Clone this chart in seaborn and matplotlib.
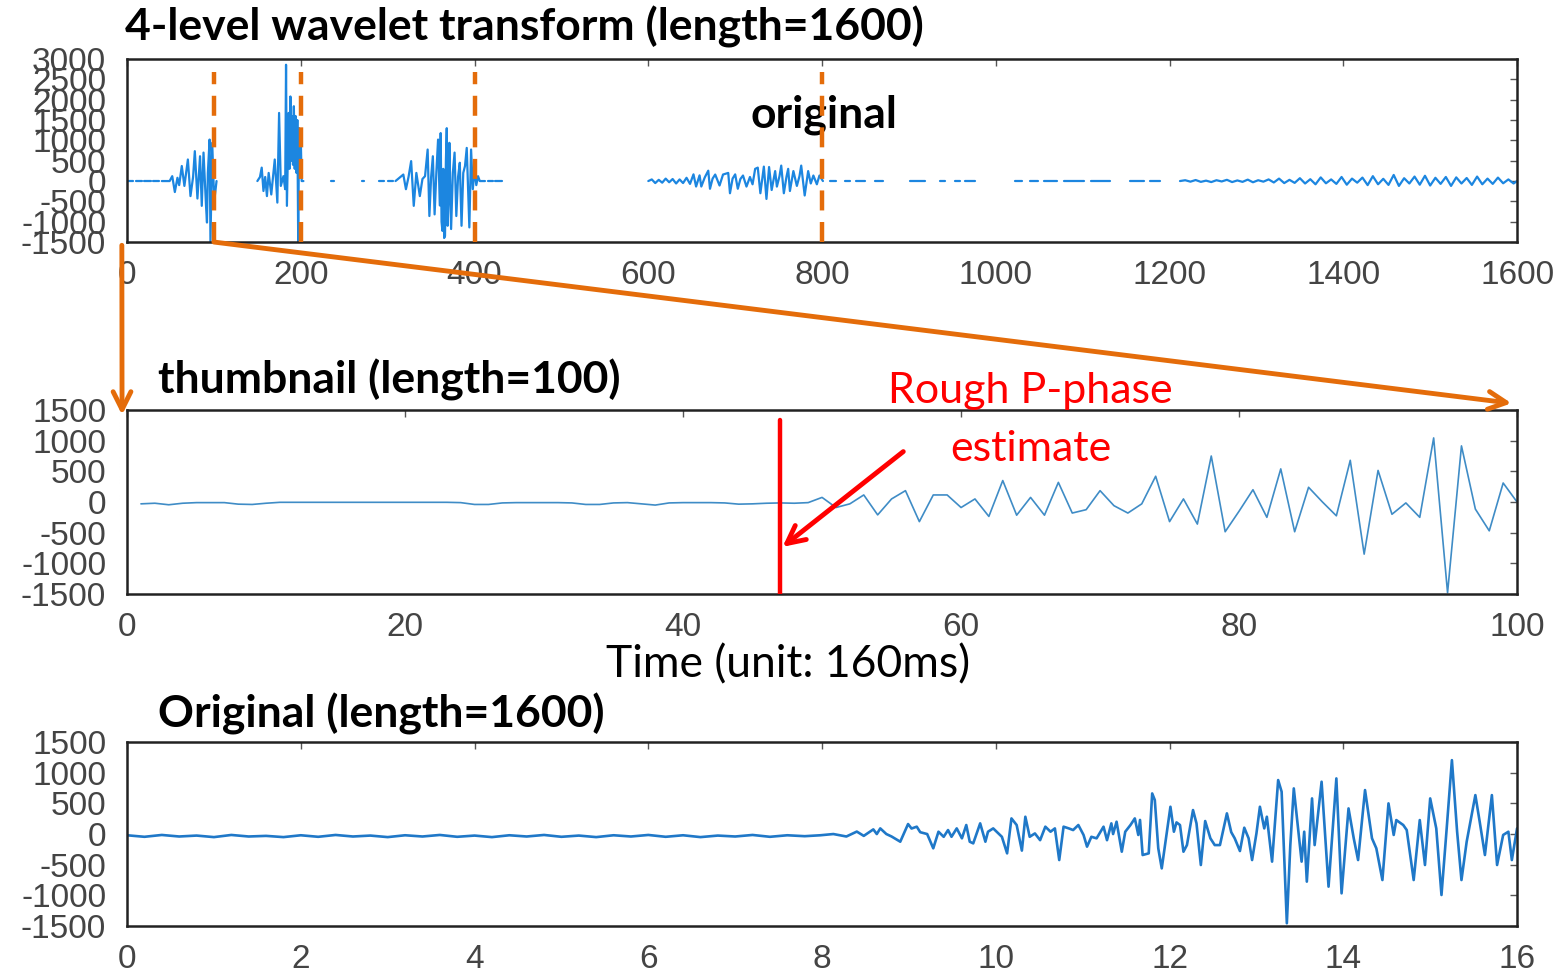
import numpy as np
import pandas as pd
import matplotlib
matplotlib.use('Agg')
import matplotlib.pyplot as plt
import seaborn as sns
from matplotlib.patches import ConnectionPatch

'''
values read off the picture
'''
# 4-level wavelet transform, (x, y) samples, nan = gap in the drawn line
wav_x = [0, 7, np.nan, 10, 17, np.nan, 20, 27, np.nan, 30, 37, np.nan, 40, 49,
         52, 55, 58, 60, 63, 66, 70, 73, 76, 78, 81, 84, 86, 88, 90, 91, 92, 93,
         95, 96, 98, 100, 101, 103, np.nan,
         150, 153, 155, 157, 159, 161, 163, 166, 168, 170, 173, 175, 177, 180,
         182, 183, 184, 186, 187, 188, 189, 190, 191, 192, 193, 194, 195, 196,
         197, 198, 199, 200, 201, 203, np.nan,
         235, 238, np.nan, 270, 273, np.nan,
         290, 296, np.nan, 300, 306, np.nan, 309, 318, 321, 324, 327, 330, 333,
         337, 340, 343, 346, 348, 350, 352, 354, 356, 358, 360, 361, 362, 363,
         364, 365, 366, 367, 368, 369, 370, 371, 373, 375, 377, 379, 381, 383,
         385, 387, 389, 391, 394, 396, 398, 400, 402, 404, 406, 412, np.nan,
         415, 421, np.nan, 424, 432, np.nan,
         600, 604, 608, 612, 616, 620, 624, 628, 632, 636, 640, 644, 648, 652,
         655, 659, 661, 665, 669, 671, 674, 677, 682, 686, 692, 694, 697, 700,
         703, 706, 709, 713, 717, 720, 723, 726, 729, 733, 736, 739, 742, 746,
         748, 751, 753, 756, 759, 761, 763, 767, 771, 774, 776, 780, 784, 787,
         790, 794, 797, 801, np.nan,
         809, 816, np.nan, 826, 832, np.nan, 839, 850, np.nan, 861, 870, np.nan,
         901, 919, np.nan, 936, 941, np.nan, 953, 959, np.nan, 964, 976, np.nan,
         1022, 1030, np.nan, 1039, 1048, np.nan, 1056, 1071, np.nan, 1079, 1102,
         np.nan, 1110, 1131, np.nan, 1154, 1171, np.nan, 1177, 1189, np.nan]
wav_y = [0, 0, np.nan, 0, 0, np.nan, 0, 0, np.nan, 0, 0, np.nan, 0, 0,
         120, -270, 80, -100, 370, -120, 530, -370, 100, 735, -430, 610, -610,
         700, -200, -650, -1020, 200, 1020, -1500, 940, -300, -370, 0, np.nan,
         0, 100, 330, -245, 100, -370, 200, -330, 100, 530, -530, 1675, -120,
         120, -200, 2860, -610, 1675, 300, 2080, 500, 1590, 400, 1840, 300,
         1600, 200, 1500, -1500, 1300, 100, 1000, 0, 0, np.nan,
         0, 0, np.nan, 0, 0, np.nan,
         0, 0, np.nan, 0, 0, np.nan, 0, 160, -200, 100, 490, -610, 200, -370,
         50, 120, 775, -860, 100, 610, -820, 200, 1020, -600, 1180, -1000,
         -1225, 300, -1400, -1350, 500, 1300, -1100, -500, 940, -1180, 200, 700,
         -860, 100, 450, -1100, 200, 370, 815, -1140, 775, -200, 290, -100, 120,
         0, 0, np.nan, 0, 0, np.nan, 0, 0, np.nan,
         0, 40, -50, 30, -40, 60, -30, 50, -60, 40, -50, 80, -70, 165, -135,
         140, -135, 90, 255, -190, 60, 160, -110, 160, 200, -300, 60, 164,
         -190, 50, 136, -136, 100, -80, 300, 330, -300, 355, -440, 345, -220,
         245, -136, 120, 380, -300, 100, 300, -245, 245, -120, 120, 380, -355,
         245, -60, 136, -80, 136, 0, np.nan,
         0, 0, np.nan, 0, 0, np.nan, 0, 0, np.nan, 0, 0, np.nan,
         0, 0, np.nan, 0, 0, np.nan, 0, 0, np.nan, 0, 0, np.nan,
         0, 0, np.nan, 0, 0, np.nan, 0, 0, np.nan, 0, 0,
         np.nan, 0, 0, np.nan, 0, 0, np.nan, 0, 0, np.nan]

# level-1 tail (x = 1212, 1218, ... step 6) small noise
tail_start, tail_step = 1212, 6
tail_v = [0, 20, -15, 25, -20, 10, -25, 20, -10, 30, -25, 15, -20, 35, -30,
          20, -15, 40, -35, 60, -50, 30, -45, 70, -60, 45, -80, 90, -55, 40,
          -70, 100, -90, 60, -40, 85, -100, 120, -80, 55, -95, 150, -120, 70,
          -60, 110, -90, 130, -110, 80, -70, 100, -120, 90, -60, 75, -95, 110,
          -80, 60, -70, 85, -55, 40, -60, 30]

# thumbnail, samples 1..100
thumb_vals = [-30, -20, -45, -20, -10, -10, -10, -35, -40, -20,
              -5, -5, -5, -5, -5, -5, -5, -5, -5, -5,
              -5, -5, -5, -10, -40, -40, -15, -10, -10, -10,
              -10, -15, -40, -40, -15, -10, -30, -50, -15, -10,
              -10, -10, -15, -35, -30, -20, -15, -20, -10, 75,
              -90, -30, 115, -210, 50, 185, -320, 115, 115, -90,
              50, -235, 350, -215, 75, -215, 320, -180, -125, 185,
              -60, -180, -30, 420, -320, 50, -360, 750, -485, -150,
              200, -250, 540, -485, 240, 0, -225, 680, -850, 515,
              -200, -15, -250, 1045, -1480, 915, -115, -470, 310, 0]
p_phase = 47

# original signal, time in seconds (read at its turning points)
quiet_t = [0.0, 0.2, 0.4, 0.6, 0.8, 1.0, 1.2, 1.4, 1.6, 1.8, 2.0, 2.2, 2.4,
           2.6, 2.8, 3.0, 3.2, 3.4, 3.6, 3.8, 4.0, 4.2, 4.4, 4.6, 4.8, 5.0,
           5.2, 5.4, 5.6, 5.8, 6.0, 6.2, 6.4, 6.6, 6.8, 7.0, 7.2, 7.4, 7.6, 7.8]
quiet_v = [-20, -45, -15, -40, -25, -50, -15, -40, -30, -50, -20, -45, -15,
           -40, -25, -50, -20, -40, -15, -45, -25, -50, -20, -40, -15, -45,
           -25, -50, -20, -40, -15, -45, -20, -50, -25, -40, -15, -45, -20, -35]
orig_t = [7.98, 8.13, 8.28, 8.40, 8.48, 8.59, 8.63, 8.67, 8.74, 8.80, 8.90,
          8.99, 9.03, 9.09, 9.13, 9.21, 9.28, 9.34, 9.40, 9.45, 9.49, 9.55,
          9.61, 9.66, 9.70, 9.74, 9.82, 9.88, 9.91, 9.97, 10.07, 10.13, 10.18,
          10.24, 10.30, 10.34, 10.39, 10.45, 10.51, 10.57, 10.63, 10.68, 10.73,
          10.78, 10.84, 10.89, 10.95, 11.01, 11.05, 11.10, 11.16, 11.24, 11.28,
          11.33, 11.35, 11.39, 11.45, 11.49, 11.55, 11.60, 11.64, 11.66, 11.69,
          11.76, 11.80, 11.83, 11.87, 11.91, 12.01, 12.05, 12.08, 12.12, 12.16,
          12.20, 12.27, 12.31, 12.36, 12.41, 12.47, 12.52, 12.58, 12.66, 12.71,
          12.75, 12.81, 12.86, 12.91, 12.95, 13.00, 13.04, 13.09, 13.12, 13.18,
          13.25, 13.29, 13.35, 13.39, 13.43, 13.52, 13.55, 13.58, 13.64, 13.67,
          13.75, 13.83, 13.92, 13.98, 14.06, 14.12, 14.17, 14.25, 14.33, 14.38,
          14.45, 14.52, 14.58, 14.61, 14.69, 14.73, 14.81, 14.88, 14.94, 15.00,
          15.07, 15.13, 15.19, 15.25, 15.31, 15.36, 15.42, 15.52, 15.57, 15.63,
          15.71, 15.77, 15.84, 15.90, 15.94, 16.0]
orig_v = [-20, 0, -40, 40, -30, 76, 0, 92, 0, -40, -125,
          163, 90, 120, 30, 0, -233, 38, -45, 65, -45, 92,
          -70, 147, -125, -152, 174, -125, 38, 92, -45, -315, 255,
          147, -270, 282, -45, 10, -100, 120, 38, 92, -424,
          120, 92, 65, 147, -15, -206, -45, -70, 120, -100,
          174, 0, 201, -288, 38, 147, 255, -15, 230, -342,
          -315, 662, 555, -233, -560, 445, 38, 190, 147, -288,
          -180, 391, 174, -505, 212, -70, -180, -180, 337, 30,
          -70, -277, 103, -70, -424, 10, 445, 92, 282, -450,
          880, 690, -1455, -180, 744, -450, 38, -776, 581, -180,
          853, -858, 907, -967, 418, -70, -424, 717, -70, -233,
          -750, 500, -15, 228, 147, 65, -750, 228, -505, 581,
          92, -994, 92, 1205, 38, -750, -125, 635, 200, -342,
          635, -505, -15, 38, -424, 92]

'''
tables for seaborn; a new segment id after each gap so lines break there
'''
wx = list(wav_x) + [tail_start + tail_step * i for i in range(len(tail_v))]
wy = list(wav_y) + tail_v
seg, segs = 0, []
for v in wy:
    if np.isnan(v):
        seg += 1
    segs.append(seg)
wav_df = pd.DataFrame({'x': wx, 'y': wy, 'seg': segs}).dropna()

thumb_df = pd.DataFrame({'x': np.arange(1, len(thumb_vals) + 1), 'y': thumb_vals})
orig_df = pd.DataFrame({'t': quiet_t + orig_t, 'v': quiet_v + orig_v})

sns.set_theme(style='white')
plt.rcParams['font.family'] = ['Liberation Sans Narrow', 'Liberation Sans', 'DejaVu Sans']
plt.rcParams['axes.unicode_minus'] = False

orange = '#E46C0A'
blue = '#1C86E0'
title_font = dict(family=['Lato', 'DejaVu Sans'], fontweight='bold', fontsize=32, color='black')

fig = plt.figure(figsize=(15.59, 9.76), dpi=100)
ax1 = fig.add_axes([0.0815, 0.752, 0.8916, 0.1875])
ax2 = fig.add_axes([0.0815, 0.3914, 0.8916, 0.1885])
ax3 = fig.add_axes([0.0815, 0.0512, 0.8916, 0.1885])

sns.lineplot(data=wav_df, x='x', y='y', units='seg', estimator=None, sort=False,
             color=blue, lw=1.6, ax=ax1)
sns.lineplot(data=thumb_df, x='x', y='y', color='#3F8CC6', lw=1.2, ax=ax2)
sns.lineplot(data=orig_df, x='t', y='v', color='#1F78C8', lw=1.9, ax=ax3)

ax1.set_xlim(0, 1600)
ax1.set_ylim(-1500, 3000)
ax1.set_xticks(range(0, 1601, 200))
ax1.set_yticks(range(-1500, 3001, 500))
ax2.set_xlim(0, 100)
ax2.set_ylim(-1500, 1500)
ax2.set_xticks(range(0, 101, 20))
ax2.set_yticks(range(-1500, 1501, 500))
ax3.set_xlim(0, 16)
ax3.set_ylim(-1500, 1500)
ax3.set_xticks(range(0, 17, 2))
ax3.set_yticks(range(-1500, 1501, 500))

for ax in (ax1, ax2, ax3):
    ax.set_xlabel('')
    ax.set_ylabel('')
    ax.tick_params(direction='in', length=5, width=1, top=True, right=True,
                   labelsize=24, labelcolor='#444444', color='#555555', pad=15)
    ax.tick_params(axis='x', pad=13)
    for s in ax.spines.values():
        s.set_color('#222222')
        s.set_linewidth(1.8)

# dashed split lines between wavelet levels
for b in [100, 200, 400, 800]:
    ax1.plot([b, b], [-1500, 2680], color=orange, lw=3.2, dashes=(4.5, 2.6), zorder=5)
ax1.text(802, 1620, 'original', ha='center', va='center', zorder=3, **title_font)

# rough p-phase marker
ax2.plot([p_phase, p_phase], [-1500, 1340], color='red', lw=3.2, zorder=5)
ax2.annotate('', xy=(p_phase, -760), xytext=(56, 850),
             arrowprops=dict(arrowstyle='->', color='red', lw=3.5, mutation_scale=32))

# orange zoom arrows
con = ConnectionPatch(xyA=(100, -1500), coordsA=ax1.transData,
                      xyB=(99.6, 1610), coordsB=ax2.transData,
                      arrowstyle='->', color=orange, lw=3.5, mutation_scale=32)
fig.add_artist(con)
con2 = ConnectionPatch(xyA=(-6, -1580), coordsA=ax1.transData,
                       xyB=(-0.36, 1420), coordsB=ax2.transData,
                       arrowstyle='->', color=orange, lw=3.5, mutation_scale=32)
fig.add_artist(con2)

fig.text(0.080, 0.972, '4-level wavelet transform (length=1600)', ha='left', va='center', **title_font)
fig.text(0.1013, 0.6107, 'thumbnail (length=100)', ha='left', va='center', **title_font)
fig.text(0.1013, 0.2684, 'Original (length=1600)', ha='left', va='center', **title_font)

red_font = dict(family=['Lato', 'DejaVu Sans'], fontsize=31, color='red')
fig.text(0.6607, 0.5994, 'Rough P-phase', ha='center', va='center', **red_font)
fig.text(0.6613, 0.540, 'estimate', ha='center', va='center', **red_font)
fig.text(0.5055, 0.3186, 'Time (unit: 160ms)', ha='center', va='center',
         family=['Lato', 'DejaVu Sans'], fontsize=32, color='black')

plt.savefig('out.png', dpi=100)
